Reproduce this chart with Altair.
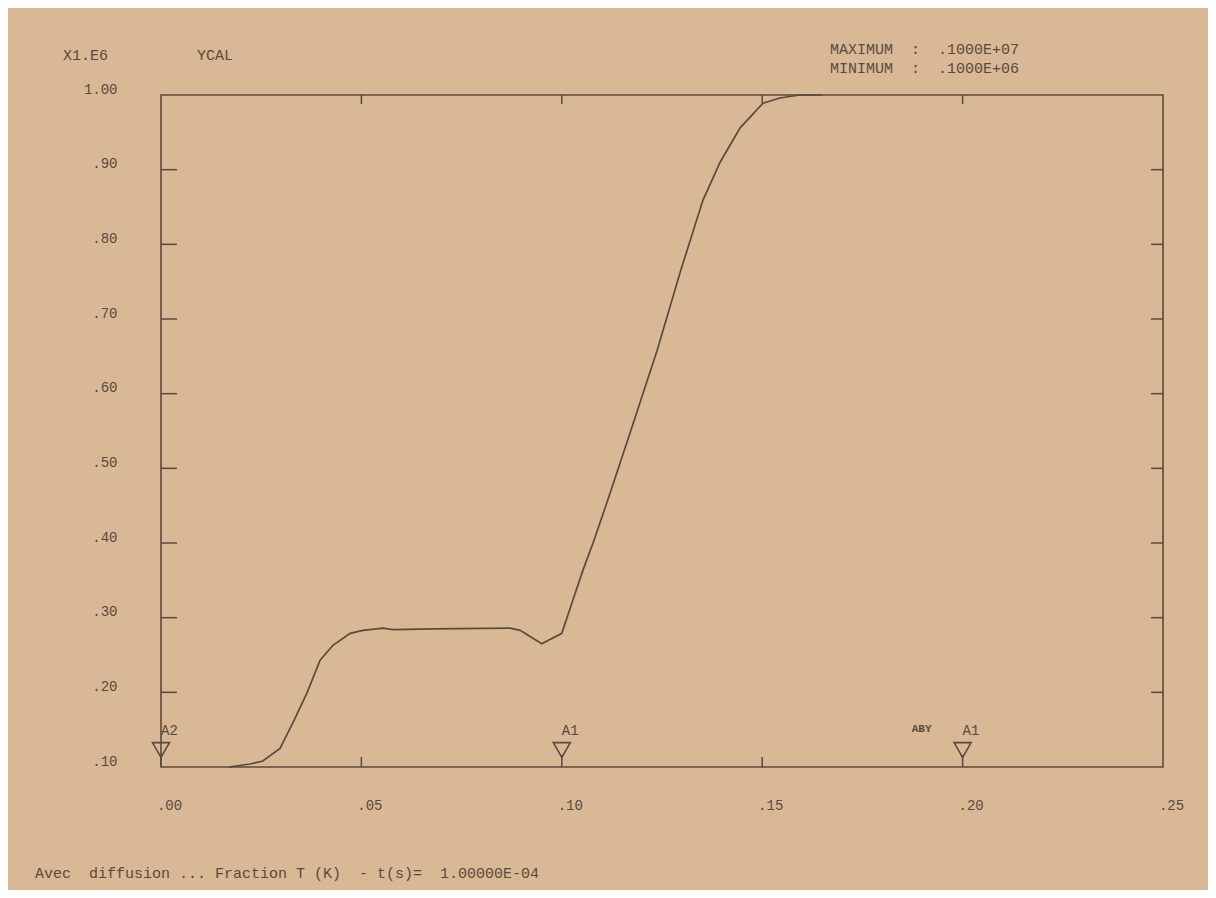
import altair as alt
import pandas as pd

# curve
xs = [0.017, 0.0222, 0.0254, 0.0297, 0.0329, 0.0364, 0.0397, 0.0429, 0.0472, 0.0504,
      0.0554, 0.0579, 0.0679, 0.0871, 0.0896, 0.0950, 0.1000, 0.1028, 0.1053, 0.1078,
      0.1115, 0.1170, 0.1238, 0.1295, 0.1352, 0.1395, 0.1445, 0.1502, 0.1544, 0.1594, 0.1650]
ys = [0.100, 0.104, 0.108, 0.125, 0.159, 0.199, 0.243, 0.263, 0.279, 0.283,
      0.286, 0.284, 0.285, 0.286, 0.283, 0.265, 0.279, 0.324, 0.364, 0.400,
      0.458, 0.547, 0.658, 0.762, 0.859, 0.910, 0.956, 0.989, 0.996, 1.000, 1.000]

x_ticks = [0.00, 0.05, 0.10, 0.15, 0.20, 0.25]
y_ticks = [0.10, 0.20, 0.30, 0.40, 0.50, 0.60, 0.70, 0.80, 0.90, 1.00]
top_tick_x = [0.05, 0.10, 0.15, 0.20]
bottom_tick_x = [0.05, 0.15]
marker_x = [0.00, 0.10, 0.20]
marker_labels = ["A2", "A1", "A1"]

INK = "#5a4a3e"
TXT = "#584a3e"
BG = "#d8b895"
FONT = "Liberation Mono"
W, H = 1002, 672
NB = "\u00a0"

xscale = alt.Scale(domain=[0, 0.25], nice=False, zero=False)
yscale = alt.Scale(domain=[0.1, 1.0], nice=False, zero=False)

lab = "datum.value < 1 ? substring(format(datum.value, '.2f'), 1) : format(datum.value, '.2f')"

curve_df = pd.DataFrame({"x": xs, "y": ys})

line = alt.Chart(curve_df).mark_line(color=INK, strokeWidth=1.7).encode(
    x=alt.X("x:Q", scale=xscale, title=None,
            axis=alt.Axis(values=x_ticks, labelExpr=lab, tickSize=0, domain=False, grid=False,
                          labelFont=FONT, labelFontSize=14, labelColor=TXT, labelPadding=31,
                          labelBaseline="top", labelOffset=8, labelFlush=False)),
    y=alt.Y("y:Q", scale=yscale, title=None,
            axis=alt.Axis(values=y_ticks, labelExpr=lab, tickSize=0, domain=False, grid=False,
                          labelFont=FONT, labelFontSize=14, labelColor=TXT, labelPadding=44,
                          labelAlign="right", labelOffset=-6, labelFlush=False)),
)

ytick_df = pd.DataFrame({"y": y_ticks[1:-1]})
left_ticks = alt.Chart(ytick_df).mark_rule(color=INK, strokeWidth=1.5).encode(
    y=alt.Y("y:Q", scale=yscale), x=alt.value(0), x2=alt.value(16))
right_ticks = alt.Chart(ytick_df).mark_rule(color=INK, strokeWidth=1.5).encode(
    y=alt.Y("y:Q", scale=yscale), x=alt.value(W - 12), x2=alt.value(W))

top_ticks = alt.Chart(pd.DataFrame({"x": top_tick_x})).mark_rule(color=INK, strokeWidth=1.5).encode(
    x=alt.X("x:Q", scale=xscale), y=alt.value(0), y2=alt.value(9))
bot_ticks = alt.Chart(pd.DataFrame({"x": bottom_tick_x})).mark_rule(color=INK, strokeWidth=1.5).encode(
    x=alt.X("x:Q", scale=xscale), y=alt.value(H - 10), y2=alt.value(H))

mk_df = pd.DataFrame({"x": marker_x, "label": marker_labels})
stems = alt.Chart(mk_df).mark_rule(color=INK, strokeWidth=1.5).encode(
    x=alt.X("x:Q", scale=xscale), y=alt.value(H - 12), y2=alt.value(H))
tris = alt.Chart(mk_df).mark_point(shape="triangle-down", filled=False, color=INK,
                                   strokeWidth=1.6, size=290, opacity=1).encode(
    x=alt.X("x:Q", scale=xscale), y=alt.value(H - 17))
mk_text = alt.Chart(mk_df).mark_text(font=FONT, fontSize=14, color=TXT, align="left",
                                     baseline="middle").encode(
    x=alt.X("x:Q", scale=xscale), y=alt.value(H - 36), text="label:N")

aby = alt.Chart(pd.DataFrame({"x": [0.1873], "t": ["ABY"]})).mark_text(
    font=FONT, fontSize=11, color=TXT, align="left", fontWeight="bold", baseline="middle").encode(
    x=alt.X("x:Q", scale=xscale), y=alt.value(H - 38), text="t:N")

def note(txt, px, py, size=15):
    return alt.Chart(pd.DataFrame({"t": [txt.replace(" ", NB)]})).mark_text(
        font=FONT, fontSize=size, color=TXT, align="left", baseline="middle").encode(
        x=alt.value(px), y=alt.value(py), text="t:N")

notes = [
    note("X1.E6", -98, -40),
    note("YCAL", 36, -40),
    note("MAXIMUM  :  .1000E+07", 669, -46),
    note("MINIMUM  :  .1000E+06", 669, -27),
    note("Avec  diffusion ... Fraction T (K)  - t(s)=  1.00000E-04", -126, 778),
]

chart = alt.layer(line, left_ticks, right_ticks, top_ticks, bot_ticks, stems, tris, mk_text, aby, *notes).properties(
    width=W, height=H,
    autosize=alt.AutoSizeParams(type="none"),
    padding={"left": 153, "top": 87, "right": 45, "bottom": 123},
    background=BG,
).configure_view(stroke=INK, strokeWidth=1.6)

chart.save("out.html", embed_options={"renderer": "svg", "actions": False})
